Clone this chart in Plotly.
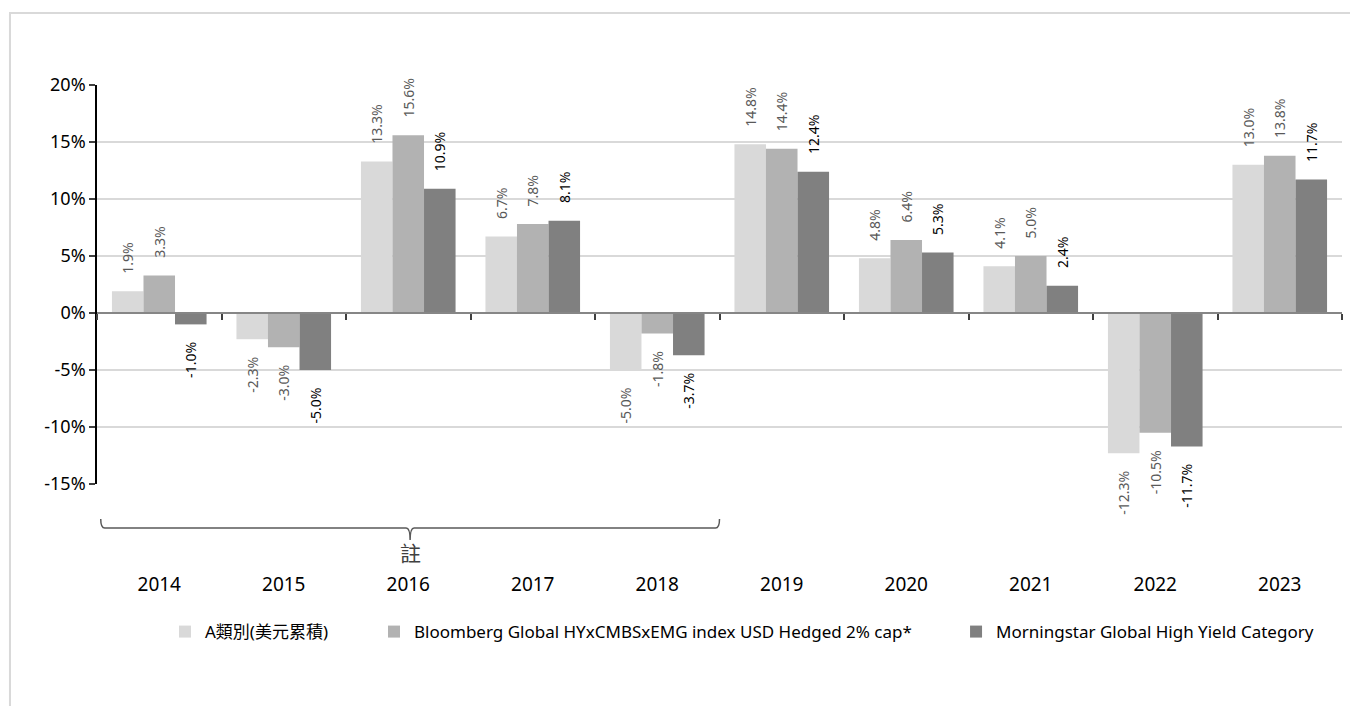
import plotly.graph_objects as go

years = ["2014", "2015", "2016", "2017", "2018", "2019", "2020", "2021", "2022", "2023"]
series_names = [
    "A類別(美元累積)",
    "Bloomberg Global HYxCMBSxEMG index USD Hedged 2% cap*",
    "Morningstar Global High Yield Category",
]
class_a = [1.9, -2.3, 13.3, 6.7, -5.0, 14.8, 4.8, 4.1, -12.3, 13.0]
bloomberg = [3.3, -3.0, 15.6, 7.8, -1.8, 14.4, 6.4, 5.0, -10.5, 13.8]
morningstar = [-1.0, -5.0, 10.9, 8.1, -3.7, 12.4, 5.3, 2.4, -11.7, 11.7]
y_ticks = [-15, -10, -5, 0, 5, 10, 15, 20]
note_text = "註"

colors = ["#d9d9d9", "#b2b2b2", "#808080"]
label_colors = ["#595959", "#595959", "#000000"]
legend_ids = ["legend", "legend2", "legend3"]
legend_x = [0.0546, 0.2225, 0.6900]
FONT = "Noto Sans, Noto Sans CJK TC, sans-serif"
PAD = "\u00a0" * 4


def label(v):
    s = f"{v:.1f}%"
    return PAD + s if v >= 0 else s + PAD


fig = go.Figure()
for name, vals, c, lc, lg in zip(series_names, [class_a, bloomberg, morningstar],
                                 colors, label_colors, legend_ids):
    fig.add_trace(go.Bar(
        x=years, y=vals, name=name, legend=lg,
        marker=dict(color=c, line=dict(width=0)),
        text=[label(v) for v in vals], textposition="outside", textangle=-90,
        textfont=dict(size=14, color=lc, family=FONT),
        constraintext="none", cliponaxis=False,
    ))

ymin, ymax = y_ticks[0], y_ticks[-1]
zero_pos = (0 - ymin) / (ymax - ymin)

legend_common = dict(orientation="h", y=-0.371, yanchor="middle", xanchor="left",
                     font=dict(size=17, color="#000000", family=FONT),
                     bgcolor="rgba(0,0,0,0)")

fig.update_layout(
    width=1350, height=698,
    margin=dict(l=89, r=16, t=77, b=222),
    paper_bgcolor="white", plot_bgcolor="white",
    barmode="group", bargap=0.24, bargroupgap=0,
    font=dict(family=FONT, color="#000000"),
    showlegend=True,
    legend=dict(x=legend_x[0], **legend_common),
    legend2=dict(x=legend_x[1], **legend_common),
    legend3=dict(x=legend_x[2], **legend_common),
    xaxis=dict(
        type="category", categoryorder="array", categoryarray=years,
        range=[-0.5, len(years) - 0.5],
        anchor="free", position=zero_pos,
        showline=True, linecolor="#868686", linewidth=1.5,
        ticks="outside", tickson="boundaries", ticklen=6, tickcolor="#404040", tickwidth=1.5,
        showgrid=False, ticklabelstandoff=254,
        tickfont=dict(size=19, color="#000000", family=FONT),
    ),
    yaxis=dict(
        range=[ymin, ymax], tickvals=y_ticks, ticktext=[f"{v}%" for v in y_ticks],
        showline=True, linecolor="#000000", linewidth=1.5,
        ticks="outside", ticklen=6, tickcolor="#404040", tickwidth=1.5,
        showgrid=True, gridcolor="#d9d9d9", gridwidth=1.8, zeroline=False,
        tickfont=dict(size=18, color="#000000", family=FONT),
    ),
)

# outer chart frame (partially cut off)
fig.add_shape(type="rect", xref="paper", yref="paper",
              x0=-0.0699, x1=1.08, y0=-0.7, y1=1.1805,
              line=dict(color="#d9d9d9", width=2), layer="below")

# curly bracket under 2014-2018
x0, x1, xc = 0.003, 0.5, 0.2515
yt, yl, ytip = -0.0877, -0.1103, -0.1404
d = 0.0032
path = (f"M {x0},{yt} Q {x0},{yl} {x0 + d},{yl} L {xc - d},{yl} "
        f"Q {xc},{yl} {xc},{ytip} Q {xc},{yl} {xc + d},{yl} "
        f"L {x1 - d},{yl} Q {x1},{yl} {x1},{yt}")
fig.add_shape(type="path", xref="paper", yref="paper", path=path,
              line=dict(color="#595959", width=1.5))

fig.add_annotation(text=note_text, xref="paper", yref="paper", x=xc, y=-0.172,
                   showarrow=False, font=dict(size=21, color="#404040", family=FONT),
                   xanchor="center", yanchor="middle")

fig.write_html("out.html")
